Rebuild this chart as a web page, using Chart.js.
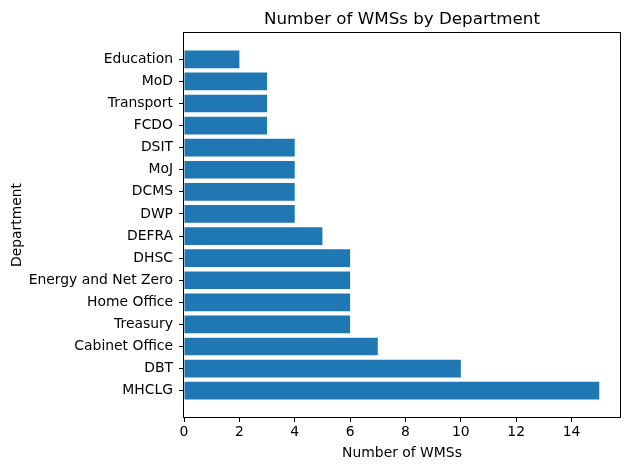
<!DOCTYPE html>
<html>
<head>
<meta charset="utf-8">
<script src="https://cdn.jsdelivr.net/npm/chart.js@4/dist/chart.umd.min.js"></script>
<style>
  html, body { margin: 0; padding: 0; background: #fff; }
  #wrap { width: 630px; height: 470px; }
</style>
</head>
<body>
<div id="wrap"><canvas id="chart" width="630" height="470"></canvas></div>
<script>
const departments = ['Education', 'MoD', 'Transport', 'FCDO', 'DSIT', 'MoJ', 'DCMS', 'DWP',
    'DEFRA', 'DHSC', 'Energy and Net Zero', 'Home Office', 'Treasury', 'Cabinet Office', 'DBT', 'MHCLG'];
const wmsCounts = [2, 3, 3, 3, 4, 4, 4, 4, 5, 6, 6, 6, 6, 7, 10, 15];
const xTicks = [0, 2, 4, 6, 8, 10, 12, 14];

const chartTitle = 'Number of WMSs by Department';
const FONT = "'DejaVu Sans', sans-serif";

// frame + title drawn like matplotlib does
const framePlugin = {
    id: 'frame',
    afterDraw(chart) {
        const { ctx, chartArea: a } = chart;
        ctx.save();
        ctx.strokeStyle = '#000';
        ctx.lineWidth = 1;
        ctx.strokeRect(Math.round(a.left) - 0.5, Math.round(a.top) - 0.5,
            Math.round(a.right - a.left) + 1, Math.round(a.bottom - a.top) + 1);
        ctx.fillStyle = '#000';
        ctx.font = '16.7px ' + FONT;
        ctx.textAlign = 'center';
        ctx.textBaseline = 'alphabetic';
        ctx.fillText(chartTitle, (a.left + a.right) / 2, 24);
        ctx.restore();
    }
};

new Chart(document.getElementById('chart'), {
    type: 'bar',
    data: {
        datasets: [{
            data: wmsCounts.map((v, i) => ({ x: v, y: i })),
            backgroundColor: '#1f77b4',
            borderWidth: 0,
            barPercentage: 0.8,
            categoryPercentage: 1.0
        }]
    },
    options: {
        indexAxis: 'y',
        responsive: false,
        animation: false,
        layout: { padding: { top: 33, right: 10, left: 0, bottom: 0 } },
        plugins: { legend: { display: false }, tooltip: { enabled: false }, title: { display: false } },
        scales: {
            x: {
                type: 'linear',
                min: 0,
                max: 15.75,
                afterBuildTicks: s => { s.ticks = xTicks.map(v => ({ value: v })); },
                afterFit: s => { s.height = 53; },
                grid: { drawOnChartArea: false, tickLength: 5, tickColor: '#000', color: '#000' },
                border: { display: false },
                ticks: { color: '#000', font: { family: FONT, size: 13.9 }, padding: 2, maxRotation: 0 },
                title: { display: true, text: 'Number of WMSs', color: '#000',
                         font: { family: FONT, size: 13.9 }, padding: { top: 0, bottom: 8 } }
            },
            y: {
                type: 'linear',
                reverse: true,
                offset: false,
                min: -1.19,
                max: 16.19,
                afterBuildTicks: s => { s.ticks = departments.map((_, i) => ({ value: i })); },
                afterFit: s => { s.width = 184; },
                grid: { offset: false, drawOnChartArea: false, tickLength: 5, tickColor: '#000', color: '#000' },
                border: { display: false },
                ticks: { color: '#000', font: { family: FONT, size: 13.9 }, padding: 6,
                         callback: v => departments[v] },
                title: { display: true, text: 'Department', color: '#000',
                         font: { family: FONT, size: 13.9 }, padding: { top: 9, bottom: 0 } }
            }
        }
    },
    plugins: [framePlugin]
});
</script>
</body>
</html>
